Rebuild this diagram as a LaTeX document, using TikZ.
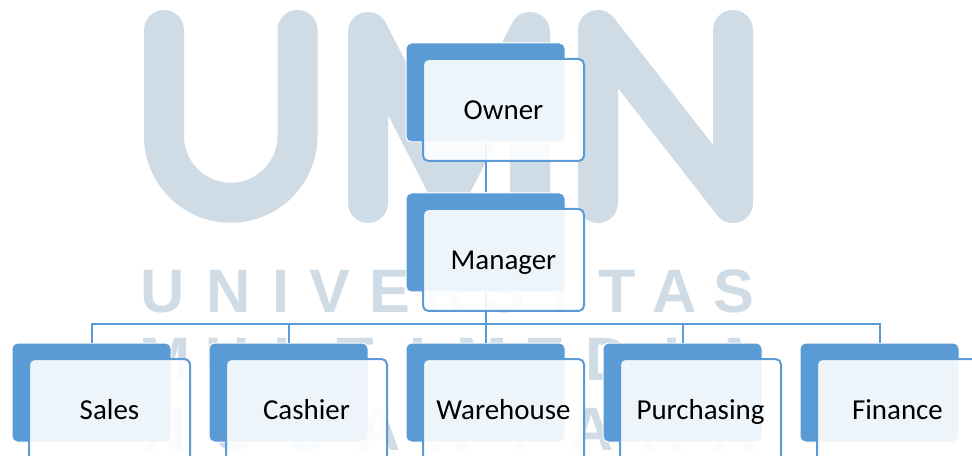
\documentclass[tikz,border=0pt]{standalone}
\usepackage{tikz}
\usepackage{xcolor}
\usepackage{fontspec}
\newfontfamily\boxfont{Carlito}
\newfontfamily\wmfont{Liberation Sans}
\definecolor{boxblue}{RGB}{91,155,213}
\definecolor{wmgray}{RGB}{207,219,229}

\begin{document}
\begin{tikzpicture}[x=0.75pt, y=-0.75pt,
  back/.style={draw=white, line width=0.75pt, fill=boxblue, rounded corners=4pt,
    minimum width=119.25pt, minimum height=74.25pt, inner sep=0pt},
  front/.style={draw=boxblue, line width=1.5pt, fill=white, fill opacity=0.9,
    draw opacity=1, text opacity=1, rounded corners=4pt, minimum width=120.75pt,
    minimum height=76.5pt, inner sep=0pt, text height=14pt, text depth=0pt,
    font=\boxfont\fontsize{21.7}{26}\selectfont},
  link/.style={draw=boxblue, line width=1.5pt},
  logo/.style={draw=wmgray, line width=30pt, line cap=round, line join=round},
  wmletter/.style={text=wmgray, anchor=base, inner sep=0pt,
    font=\wmfont\bfseries\fontsize{46}{46}\selectfont}]
  \useasboundingbox (0,0) rectangle (972,456);
  \clip (0,0) rectangle (972,456);

  % Watermark: U M N
  \draw[logo] (164,30) -- (164,136) arc[start angle=180, end angle=0, radius=66.75]
     -- (297.5,30);
  \draw[logo] (368,203) -- (368,32) -- (449,190) -- (530,32) -- (530,203);
  \draw[logo] (598,203) -- (598,30) -- (733,203) -- (733,30);
  % Watermark: text rows
  \foreach \ch/\px [count=\i] in {U/163, N/229, I/281, V/330, E/390, R/447,
      S/504, I/560, T/617, A/675, S/734}
    \node[wmletter] (uni\i) at (\px,312) {\ch};
  \foreach \ch/\px [count=\i] in {M/165, U/228, L/292, T/355, I/418, M/482,
      E/545, D/608, I/672, A/735}
    \node[wmletter] (mul\i) at (\px,380) {\ch};
  \foreach \ch/\px [count=\i] in {N/165, U/236, S/307, A/379, N/450, T/521,
      A/592, R/664, A/735}
    \node[wmletter] (nus\i) at (\px,450) {\ch};

  % Back boxes
  \node[back] (ownerb) at (485.5,92.5) {};
  \node[back] (managerb) at (485.5,242.5) {};
  \node[back] (salesb) at (91.5,392.5) {};
  \node[back] (cashierb) at (288.5,392.5) {};
  \node[back] (warehouseb) at (485.5,392.5) {};
  \node[back] (purchasingb) at (682.5,392.5) {};
  \node[back] (financeb) at (879.5,392.5) {};

  % Connectors
  \draw[link] (ownerb.south) -- (managerb.north);
  \coordinate (bus) at (485.5,324);
  \draw[link] (managerb.south) -- (bus);
  \draw[link] (bus) -| (salesb.north);
  \draw[link] (bus) -| (cashierb.north);
  \draw[link] (bus) -- (warehouseb.north);
  \draw[link] (bus) -| (purchasingb.north);
  \draw[link] (bus) -| (financeb.north);

  % Front boxes
  \node[front] (owner) at ([shift={(18,17.5)}]ownerb.center) {Owner};
  \node[front] (manager) at ([shift={(18,17.5)}]managerb.center) {Manager};
  \node[front] (sales) at ([shift={(18,17.5)}]salesb.center) {Sales};
  \node[front] (cashier) at ([shift={(18,17.5)}]cashierb.center) {Cashier};
  \node[front] (warehouse) at ([shift={(18,17.5)}]warehouseb.center) {Warehouse};
  \node[front] (purchasing) at ([shift={(18,17.5)}]purchasingb.center) {Purchasing};
  \node[front] (finance) at ([shift={(18,17.5)}]financeb.center) {Finance};
\end{tikzpicture}
\end{document}
